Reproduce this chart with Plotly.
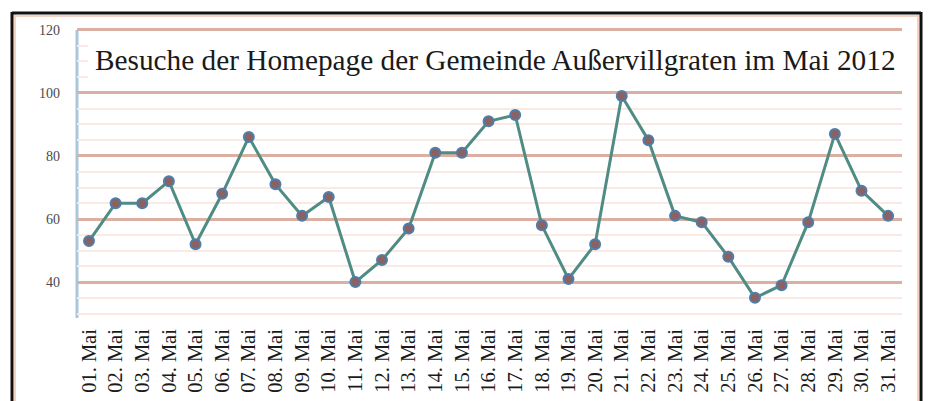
import plotly.graph_objects as go

days = [f"{d:02d}. Mai" for d in range(1, 32)]
visits = [53, 65, 65, 72, 52, 68, 86, 71, 61, 67, 40, 47, 57, 81, 81, 91, 93,
          58, 41, 52, 99, 85, 61, 59, 48, 35, 39, 59, 87, 69, 61]
y_ticks = [40, 60, 80, 100, 120]
title_text = "Besuche der Homepage der Gemeinde Außervillgraten im Mai 2012"

W, H = 929, 401
L, R, T, B = 77, 902, 28, 318


def px(x):
    return (x - L) / (R - L)


def py(y):
    return (B - y) / (B - T)


fig = go.Figure()
fig.add_trace(go.Scatter(
    x=days, y=visits, mode="lines+markers",
    line=dict(color="#4f8c84", width=3),
    marker=dict(size=10, color="#8a6262", line=dict(color="#4c7fae", width=2)),
    showlegend=False, hoverinfo="x+y",
))

shapes = []
# title box
shapes.append(dict(type="rect", xref="paper", yref="paper",
                   x0=px(88), x1=px(905), y0=py(84), y1=py(40),
                   fillcolor="white", line=dict(width=0), layer="above"))
# frame (salmon fringe + black)
for c, w, off in [("#f5d2c4", 2, 3), ("#111111", 3, 0)]:
    shapes.append(dict(type="line", xref="paper", yref="paper",
                       x0=px(12), x1=px(921), y0=py(13 + off), y1=py(13 + off),
                       line=dict(color=c, width=w), layer="above"))
    shapes.append(dict(type="line", xref="paper", yref="paper",
                       x0=px(12 + off), x1=px(12 + off), y0=py(12), y1=py(401),
                       line=dict(color=c, width=w), layer="above"))
    shapes.append(dict(type="line", xref="paper", yref="paper",
                       x0=px(921 - off), x1=px(921 - off), y0=py(12), y1=py(401),
                       line=dict(color=c, width=w), layer="above"))
# y axis line (light blue)
shapes.append(dict(type="line", xref="paper", yref="paper",
                   x0=0, x1=0, y0=0, y1=py(30),
                   line=dict(color="#a9c6da", width=3), layer="below"))

fig.update_layout(
    width=W, height=H,
    margin=dict(l=L, r=W - R, t=T, b=H - B, autoexpand=False),
    paper_bgcolor="white", plot_bgcolor="white",
    shapes=shapes,
    annotations=[dict(
        text=title_text, xref="paper", yref="paper",
        x=px(93), y=py(60), xanchor="left", yanchor="middle",
        showarrow=False,
        font=dict(family="Liberation Serif, Times New Roman, serif", size=29.3, color="#1a1a1a"),
    )],
    xaxis=dict(
        type="category", range=[-0.45, 30.52], automargin=False,
        tickangle=-90, showgrid=False, showline=False, zeroline=False,
        ticks="", ticklabelstandoff=6,
        tickfont=dict(family="Liberation Serif, Times New Roman, serif", size=20.5, color="#1a1a1a"),
    ),
    yaxis=dict(
        range=[28.6, 120.6], tickvals=y_ticks, automargin=False,
        showgrid=True, gridcolor="#dbb0a2", gridwidth=3,
        minor=dict(dtick=5, showgrid=True, gridcolor="#fbeae4", gridwidth=2),
        showline=False, zeroline=False, ticks="", ticklabelstandoff=16,
        tickfont=dict(family="Liberation Serif, serif", size=14, color="#4a4a4a"),
    ),
)

fig.write_html("out.html", config={"displayModeBar": False},
               post_script="document.body.style.margin='0';document.body.style.overflow='hidden';")
